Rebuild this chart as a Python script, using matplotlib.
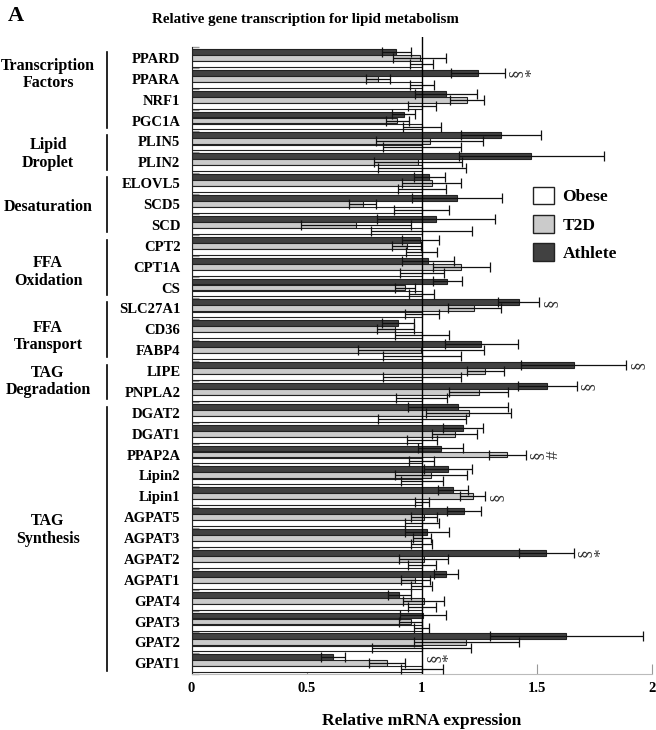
import matplotlib
matplotlib.use("Agg")
import matplotlib.pyplot as plt
import matplotlib.transforms as mtransforms
from matplotlib.patches import Patch
import numpy as np

plt.rcParams['font.family'] = ['Liberation Serif', 'DejaVu Serif']
plt.rcParams['font.weight'] = 'bold'

# genes, top to bottom
genes = ['PPARD', 'PPARA', 'NRF1', 'PGC1A', 'PLIN5', 'PLIN2', 'ELOVL5', 'SCD5', 'SCD',
         'CPT2', 'CPT1A', 'CS', 'SLC27A1', 'CD36', 'FABP4', 'LIPE', 'PNPLA2',
         'DGAT2', 'DGAT1', 'PPAP2A', 'Lipin2', 'Lipin1', 'AGPAT5', 'AGPAT3', 'AGPAT2',
         'AGPAT1', 'GPAT4', 'GPAT3', 'GPAT2', 'GPAT1']

obese = [1.0] * 30
obese_err = [0.05, 0.053, 0.062, 0.083, 0.17, 0.19, 0.105, 0.12, 0.22, 0.068,
             0.095, 0.055, 0.074, 0.118, 0.17, 0.17, 0.11, 0.19, 0.065, 0.055,
             0.092, 0.03, 0.075, 0.045, 0.06, 0.045, 0.06, 0.032, 0.215, 0.09]

t2d = [0.99, 0.81, 1.195, 0.894, 1.034, 0.983, 1.043, 0.743, 0.714, 0.934,
       1.172, 0.927, 1.228, 0.885, 0.997, 1.276, 1.247, 1.203, 1.143, 1.371,
       1.04, 1.221, 1.008, 1.0, 1.008, 0.972, 1.008, 0.953, 1.194, 0.849]
t2d_err = [0.113, 0.054, 0.073, 0.05, 0.233, 0.19, 0.127, 0.06, 0.238, 0.063,
           0.125, 0.045, 0.115, 0.08, 0.275, 0.08, 0.127, 0.185, 0.097, 0.08,
           0.156, 0.055, 0.056, 0.038, 0.106, 0.064, 0.09, 0.05, 0.23, 0.08]

athlete = [0.889, 1.243, 1.105, 0.921, 1.344, 1.476, 1.033, 1.153, 1.063, 0.993,
           1.027, 1.11, 1.42, 0.896, 1.259, 1.66, 1.544, 1.157, 1.179, 1.083,
           1.114, 1.135, 1.182, 1.022, 1.541, 1.105, 0.903, 1.005, 1.628, 0.614]
athlete_err = [0.063, 0.117, 0.134, 0.05, 0.172, 0.316, 0.068, 0.197, 0.256, 0.08,
               0.114, 0.063, 0.09, 0.069, 0.158, 0.228, 0.128, 0.218, 0.088, 0.098,
               0.104, 0.066, 0.074, 0.097, 0.118, 0.053, 0.05, 0.1, 0.333, 0.053]

# functional groups: (label, first gene index, last gene index)
groups = [('Transcription\nFactors', 0, 3), ('Lipid\nDroplet', 4, 5), ('Desaturation', 6, 8),
          ('FFA\nOxidation', 9, 11), ('FFA\nTransport', 12, 14), ('TAG\nDegradation', 15, 16),
          ('TAG\nSynthesis', 17, 29)]
group_label_shift = [-0.7, 0.1, 0.15, 0.25, 0.35, 0.0, -0.4]

# significance marks: (gene, series, symbols)
marks = [('PPARA', 'Athlete', ['§', '*']), ('SLC27A1', 'Athlete', ['§']),
         ('LIPE', 'Athlete', ['§']), ('PNPLA2', 'Athlete', ['§']),
         ('PPAP2A', 'T2D', ['§', '#']), ('Lipin1', 'T2D', ['§']),
         ('AGPAT2', 'Athlete', ['§', '*']), ('GPAT1', 'Athlete', ['§', '*'])]

fig = plt.figure(figsize=(6.56, 7.3), dpi=100)
ax = fig.add_axes([0.292, 0.0771, 0.702, 0.8722])

y = np.arange(len(genes))
h = 0.28
off = 0.29
series = {
    'Athlete': (athlete, athlete_err, '#414141', -off),
    'T2D': (t2d, t2d_err, '#cbcbcb', 0.0),
    'Obese': (obese, obese_err, 'white', off),
}
for name, (vals, errs, col, dy) in series.items():
    ax.barh(y + dy, vals, height=h, color=col, edgecolor='#222222', linewidth=0.8, zorder=2)
    ax.errorbar(vals, y + dy, xerr=errs, fmt='none', ecolor='#111111', elinewidth=0.9,
                capsize=3.5, capthick=0.9, zorder=3)

ax.axvline(1.0, color='black', lw=1.0, zorder=4)

ax.set_xlim(0, 2)
ax.set_ylim(29.5, -1.0)
ax.set_xticks([0, 0.5, 1, 1.5, 2])
ax.set_xticklabels(['0', '0.5', '1', '1.5', '2'], fontsize=10.5, fontweight='bold')
ax.tick_params(axis='x', direction='in', length=7, color='#999999', pad=6)
ax.set_yticks(y)
ax.set_yticklabels(genes, fontsize=10.5, fontweight='bold')
ax.tick_params(axis='y', which='major', length=0, pad=8)
ax.set_yticks(np.arange(-0.5, 29.6, 1), minor=True)
ax.tick_params(axis='y', which='minor', direction='in', length=5, color='#999999', width=1)

for s in ['top', 'right']:
    ax.spines[s].set_visible(False)
ax.spines['left'].set_bounds(-0.5, 29.5)
ax.spines['left'].set_color('#222222')
ax.spines['bottom'].set_color('#bbbbbb')

ax.set_xlabel('Relative mRNA expression', fontsize=12.5, fontweight='bold', labelpad=13)

trans = mtransforms.blended_transform_factory(ax.transAxes, ax.transData)
for (label, a, b), shift in zip(groups, group_label_shift):
    ax.plot([-0.1835, -0.1835], [a - 0.5 + 0.2, b + 0.5 - 0.15], color='black', lw=1.2,
            transform=trans, clip_on=False)
    ax.text(-0.3116, (a + b) / 2 + shift, label, transform=trans, ha='center', va='center',
            fontsize=11.5, fontweight='bold', linespacing=1.15)

for gene, ser, syms in marks:
    i = genes.index(gene)
    vals, errs, _, dy = series[ser]
    x0 = max(vals[i] + errs[i], 1.0) + 0.05
    for k, sym in enumerate(syms):
        ax.text(x0 + 0.07 * k, i + dy, sym, rotation=90, ha='center', va='center',
                fontsize=12.5, color='#333333', fontweight='normal')

handles = [Patch(facecolor='white', edgecolor='#222222', label='Obese'),
           Patch(facecolor='#cbcbcb', edgecolor='#222222', label='T2D'),
           Patch(facecolor='#414141', edgecolor='#222222', label='Athlete')]
ax.legend(handles=handles, loc='upper left', bbox_to_anchor=(0.7416, 0.765), frameon=False,
          prop={'size': 12.5, 'weight': 'bold'}, handlelength=1.2, handleheight=1.2,
          labelspacing=0.55, handletextpad=0.5, borderpad=0, borderaxespad=0)

fig.text(0.465, 0.973, 'Relative gene transcription for lipid metabolism', ha='center',
         va='center', fontsize=10.8, fontweight='bold')
fig.text(0.012, 0.978, 'A', ha='left', va='center', fontsize=16, fontweight='bold')

fig.savefig('out.png', dpi=100)
